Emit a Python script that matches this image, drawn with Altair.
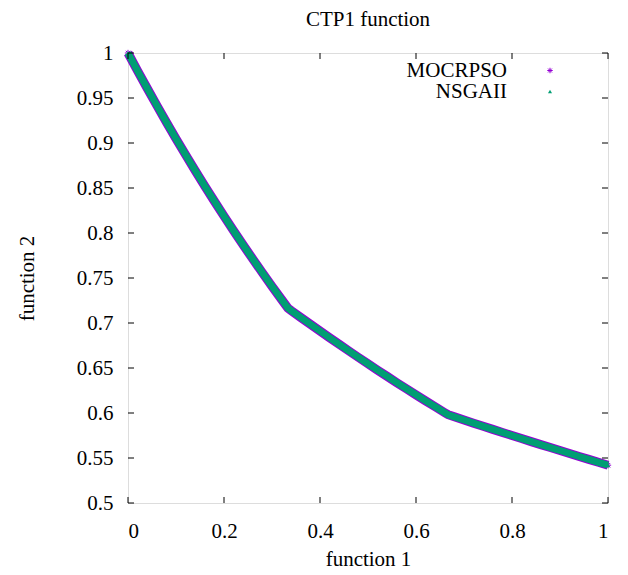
import altair as alt
import pandas as pd

# Data
f1 = [0, 0.02, 0.04, 0.06, 0.08, 0.10, 0.12, 0.14, 0.16, 0.18, 0.20, 0.22, 0.24, 0.26, 0.28, 0.30, 0.32, 0.333,
      0.34, 0.36, 0.38, 0.40, 0.42, 0.44, 0.46, 0.48, 0.50, 0.52, 0.54, 0.56, 0.58, 0.60, 0.62, 0.64, 0.66, 0.667,
      0.68, 0.70, 0.72, 0.74, 0.76, 0.78, 0.80, 0.82, 0.84, 0.86, 0.88, 0.90, 0.92, 0.94, 0.96, 0.98, 1.00]
mocrpso_f2 = [1.0, 0.9802, 0.9608, 0.9418, 0.9231, 0.9048, 0.8869, 0.8694, 0.8521, 0.8353, 0.8187, 0.8025, 0.7866,
              0.7711, 0.7558, 0.7408, 0.7261, 0.7167,
              0.7138, 0.7061, 0.6986, 0.6911, 0.6836, 0.6763, 0.6690, 0.6618, 0.6547, 0.6476, 0.6407, 0.6337,
              0.6269, 0.6202, 0.6135, 0.6069, 0.6003, 0.5981,
              0.5957, 0.5922, 0.5887, 0.5852, 0.5818, 0.5784, 0.5750, 0.5716, 0.5682, 0.5649, 0.5616, 0.5583,
              0.5550, 0.5517, 0.5485, 0.5452, 0.5420]
nsgaii_f2 = [1.0, 0.9802, 0.9608, 0.9418, 0.9231, 0.9048, 0.8869, 0.8694, 0.8521, 0.8353, 0.8187, 0.8025, 0.7866,
             0.7711, 0.7558, 0.7408, 0.7261, 0.7167,
             0.7138, 0.7061, 0.6986, 0.6911, 0.6836, 0.6763, 0.6690, 0.6618, 0.6547, 0.6476, 0.6407, 0.6337,
             0.6269, 0.6202, 0.6135, 0.6069, 0.6003, 0.5981,
             0.5957, 0.5922, 0.5887, 0.5852, 0.5818, 0.5784, 0.5750, 0.5716, 0.5682, 0.5649, 0.5616, 0.5583,
             0.5550, 0.5517, 0.5485, 0.5452, 0.5420]
series_names = ["MOCRPSO", "NSGAII"]
x_ticks = [0, 0.2, 0.4, 0.6, 0.8, 1.0]
y_ticks = [0.5, 0.55, 0.6, 0.65, 0.7, 0.75, 0.8, 0.85, 0.9, 0.95, 1.0]

FONT = "Liberation Serif, Times New Roman, serif"
FS = 21
PURPLE = "#9400D3"
GREEN = "#009E73"
W, H = 480, 450
ASTERISK = "M-1,0L1,0M0,-1L0,1M-0.7,-0.7L0.7,0.7M-0.7,0.7L0.7,-0.7"

df_m = pd.DataFrame({"f1": f1, "f2": mocrpso_f2, "order": range(len(f1))})
df_n = pd.DataFrame({"f1": f1, "f2": nsgaii_f2, "order": range(len(f1))})
df_xt = pd.DataFrame({"f1": x_ticks})
df_yt = pd.DataFrame({"f2": y_ticks})

xscale = alt.Scale(domain=[0, 1], nice=False, zero=False)
yscale = alt.Scale(domain=[0.5, 1], nice=False, zero=False)

xaxis = alt.Axis(values=x_ticks, format="~g", grid=False, ticks=False, domain=False,
                 labelFont=FONT, labelFontSize=FS, labelColor="black", labelPadding=17,
                 title="function 1", titleFont=FONT, titleFontSize=FS, titleFontWeight="normal",
                 titleColor="black", titleX=W / 2, titleY=56, titleBaseline="middle", titleAlign="center")
yaxis = alt.Axis(values=y_ticks, format="~g", grid=False, ticks=False, domain=False,
                 labelFont=FONT, labelFontSize=FS, labelColor="black", labelPadding=15,
                 title="function 2", titleFont=FONT, titleFontSize=FS, titleFontWeight="normal",
                 titleColor="black", titleX=-101, titleY=H / 2, titleBaseline="middle",
                 titleAlign="center", titleAngle=270)

X = alt.X("f1:Q", scale=xscale, axis=xaxis, title="function 1")
Y = alt.Y("f2:Q", scale=yscale, axis=yaxis, title="function 2")

line_m = alt.Chart(df_m).mark_line(color=PURPLE, strokeWidth=9).encode(x=X, y=Y, order="order:Q")
pts_m = alt.Chart(df_m).mark_point(shape=ASTERISK, color=PURPLE, size=40, strokeWidth=1, filled=False,
                                   opacity=1).encode(x=X, y=Y)
line_n = alt.Chart(df_n).mark_line(color=GREEN, strokeWidth=7).encode(x=X, y=Y, order="order:Q")
pts_n = alt.Chart(df_n).mark_point(shape="triangle-up", color=GREEN, size=20, filled=True,
                                   opacity=1).encode(x=X, y=Y)

tick_style = dict(color="black", strokeWidth=1)
xt_bottom = alt.Chart(df_xt).mark_rule(**tick_style).encode(x=X, y=alt.value(H), y2=alt.value(H - 6))
xt_top = alt.Chart(df_xt).mark_rule(**tick_style).encode(x=X, y=alt.value(0), y2=alt.value(6))
yt_left = alt.Chart(df_yt).mark_rule(**tick_style).encode(y=Y, x=alt.value(0), x2=alt.value(6))
yt_right = alt.Chart(df_yt).mark_rule(**tick_style).encode(y=Y, x=alt.value(W), x2=alt.value(W - 6))

df_leg = pd.DataFrame({"name": series_names})
leg_layers = []
leg_rows = [17.5, 38.5]
leg_shapes = [dict(shape=ASTERISK, color=PURPLE, size=30, filled=False, strokeWidth=1),
              dict(shape="triangle-up", color=GREEN, size=16, filled=True)]
for i, name in enumerate(series_names):
    d = df_leg[df_leg["name"] == name]
    leg_layers.append(alt.Chart(d).mark_text(font=FONT, fontSize=FS, align="right", baseline="middle",
                                              color="black").encode(text="name:N", x=alt.value(379),
                                                                     y=alt.value(leg_rows[i])))
    leg_layers.append(alt.Chart(d).mark_point(opacity=1, **leg_shapes[i]).encode(
        x=alt.value(422), y=alt.value(leg_rows[i])))

chart = alt.layer(line_m, pts_m, line_n, pts_n, xt_bottom, xt_top, yt_left, yt_right, *leg_layers).properties(
    width=W, height=H,
    title=alt.TitleParams("CTP1 function", font=FONT, fontSize=FS, fontWeight="normal", color="black",
                          anchor="middle", offset=5),
    autosize=alt.AutoSizeParams(type="none"),
    padding={"left": 120, "top": 45, "right": 12, "bottom": 70},
).configure_view(stroke="black", strokeWidth=1).configure(background="white")

chart.save("out.html", embed_options={"renderer": "svg", "actions": False})
